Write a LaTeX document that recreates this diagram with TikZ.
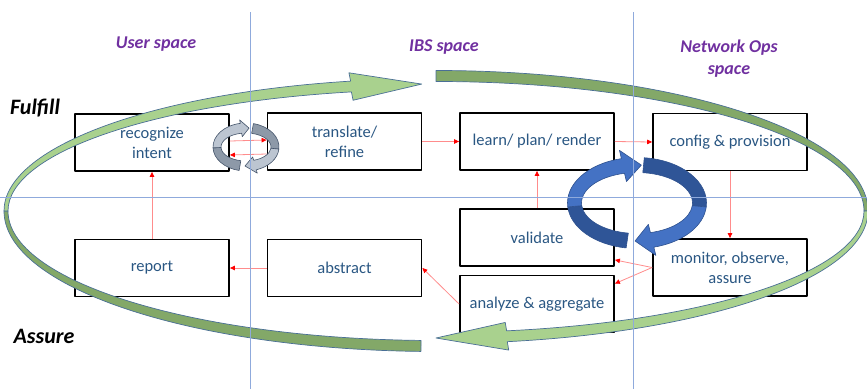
\documentclass[tikz,border=0pt]{standalone}
\usepackage{fontspec}
\setmainfont{Carlito}
\usetikzlibrary{arrows.meta, calc}

\definecolor{boxtext}{HTML}{2A5783}
\definecolor{spacecol}{HTML}{7030A0}
\definecolor{gridcol}{HTML}{8FAADC}
\definecolor{greenfront}{HTML}{A9D18E}
\definecolor{greenback}{HTML}{83A868}
\definecolor{greenline}{HTML}{4A6F96}
\definecolor{bluefront}{HTML}{4472C4}
\definecolor{blueback}{HTML}{2F5597}
\definecolor{blueline}{HTML}{2F528F}
\definecolor{grayfront}{HTML}{BCC5D1}
\definecolor{grayback}{HTML}{8D99A8}
\definecolor{grayline}{HTML}{44546A}

% ribbon piece on an ellipse round (\ctr): outer radii \rxo,\ryo, inner radii \rxi,\ryi
\newcommand{\seg}[3]{%
  \filldraw[#1] ($(\ctr)+({#2}:{\rxo} and {\ryo})$)
    arc[start angle=#2, end angle=#3, x radius=\rxo, y radius=\ryo]
    -- ($(\ctr)+({#3}:{\rxi} and {\ryi})$)
    arc[start angle=#3, end angle=#2, x radius=\rxi, y radius=\ryi] -- cycle;}
% same, ending in an arrow head (head base at #3, tip at #4)
\newcommand{\segarrow}[4]{%
  \filldraw[#1] ($(\ctr)+({#2}:{\rxo} and {\ryo})$)
    arc[start angle=#2, end angle=#3, x radius=\rxo, y radius=\ryo]
    -- ($(\ctr)+({#3}:{\rxo+\hw} and {\ryo+\hw})$)
    -- ($(\ctr)+({#4}:{(\rxo+\rxi)/2} and {(\ryo+\ryi)/2})$)
    -- ($(\ctr)+({#3}:{\rxi-\hw} and {\ryi-\hw})$)
    -- ($(\ctr)+({#3}:{\rxi} and {\ryi})$)
    arc[start angle=#3, end angle=#2, x radius=\rxi, y radius=\ryi] -- cycle;}

\begin{document}
\begin{tikzpicture}[x=1pt, y=-1pt, line join=round,
    stage/.style={draw=black, line width=1.8pt, fill=white, minimum width=154pt,
      minimum height=57pt, inner sep=0pt, align=center, text=boxtext,
      font=\fontsize{16.5}{20}\selectfont},
    flow/.style={draw=red!45, line width=0.8pt, -{Triangle[length=5pt, width=4.5pt, color=red]}},
    spacelabel/.style={text=spacecol, align=center, font=\fontsize{18}{22}\selectfont\bfseries\itshape},
    phase/.style={font=\fontsize{22}{26}\selectfont\bfseries\itshape}]
  \useasboundingbox (0,0) rectangle (867,389);

  % Stages
  \node[stage] (rec)    at (152,142.5) {recognize\\intent};
  \node[stage] (trans)  at (344.5,141.5) {translate/\\refine};
  \node[stage] (learn)  at (537,141.5) {learn/ plan/ render};
  \node[stage] (config) at (730,142) {config \& provision};
  \node[stage] (report) at (152,268) {report};
  \node[stage] (abstr)  at (344.5,268) {abstract};
  \node[stage] (valid)  at (537,237.5) {validate};
  \node[stage] (anlz)   at (537,304) {analyze \& aggregate};
  \node[stage] (mon)    at (730,267.5) {monitor, observe,\\assure};

  % Red flow arrows
  \draw[flow] ([yshift=1.5pt]rec.east) -- ([yshift=1.5pt]trans.west);
  \draw[flow] ([yshift=-12.5pt]trans.west) -- ([yshift=-12.5pt]rec.east);
  \draw[flow] (trans.east) -- (learn.west);
  \draw[flow] (learn.east) -- (config.west);
  \draw[flow] (config.south) -- (mon.north);
  \draw[flow] (mon.west) -- ([yshift=7pt]valid.south east);
  \draw[flow] (mon.west) -- ([yshift=-9pt]anlz.north east);
  \draw[flow] (valid.north) -- (learn.south);
  \draw[flow] (anlz.west) -- (abstr.east);
  \draw[flow] (abstr.west) -- (report.east);
  \draw[flow] (report.north) -- (rec.south);

  % Grey cycle between recognize and translate
  \coordinate (C1) at (246,147);
  \def\ctr{C1}\def\rxo{33}\def\ryo{24}\def\rxi{25}\def\ryi{14}\def\hw{3.5}
  \seg{fill=grayback, draw=grayline, line width=0.6pt}{283}{365}
  \segarrow{fill=grayfront, draw=grayline, line width=0.6pt}{365}{432}{452}
  \seg{fill=grayback, draw=grayline, line width=0.6pt}{102}{178}
  \segarrow{fill=grayfront, draw=grayline, line width=0.6pt}{178}{260}{276}

  % Blue cycle
  \coordinate (C2) at (637,203);
  \def\ctr{C2}\def\rxo{69.5}\def\ryo{45.5}\def\rxi{55.5}\def\ryi{30.5}\def\hw{8.5}
  \seg{fill=blueback, draw=blueline, line width=0.6pt}{276}{365}
  \segarrow{fill=bluefront, draw=blueline, line width=0.6pt}{365}{436}{451.8}
  \seg{fill=blueback, draw=blueline, line width=0.6pt}{99}{175}
  \segarrow{fill=bluefront, draw=blueline, line width=0.6pt}{175}{257}{274}

  % Green Fulfill / Assure loop
  \coordinate (C0) at (436,211);
  \def\ctr{C0}\def\rxo{432}\def\ryo{140.5}\def\rxi{428}\def\ryi{129.5}
  \seg{fill=greenback, draw=greenline, line width=0.7pt}{270}{360}
  \seg{fill=greenback, draw=greenline, line width=0.7pt}{92}{180}
  \def\rxo{432}\def\ryo{132.5}\def\rxi{428}\def\ryi{121.5}\def\hw{8.5}
  \segarrow{fill=greenfront, draw=greenline, line width=0.7pt}{180}{258.6}{268.1}
  \segarrow{fill=greenfront, draw=greenline, line width=0.7pt}{0}{80.5}{90}

  % Space borders
  \draw[gridcol, line width=0.8pt] (250,12) -- (250,389);
  \draw[gridcol, line width=0.8pt] (633,12) -- (633,389);
  \draw[gridcol, line width=0.8pt] (0,197) -- (867,197);

  % Labels
  \node[spacelabel] (usr) at (156,44) {User space};
  \node[spacelabel] (ibs) at (444,47) {IBS space};
  \node[spacelabel] (netops) at (729,59) {Network Ops\\space};
  \node[phase] (fulfill) at (35,108) {Fulfill};
  \node[phase] (assure) at (44,336) {Assure};
\end{tikzpicture}
\end{document}
